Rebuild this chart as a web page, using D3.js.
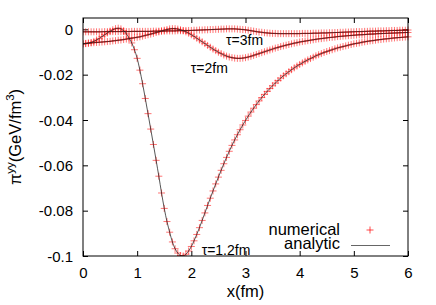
<!DOCTYPE html>
<html>
<head>
<meta charset="utf-8">
<script src="https://cdn.jsdelivr.net/npm/d3@7"></script>
<style>
  html, body { margin: 0; padding: 0; background: #fff; }
  svg { display: block; }
  text { font-family: "Liberation Sans", Arial, Helvetica, sans-serif; fill: #000; }
</style>
</head>
<body>
<svg id="chart" width="436" height="305"></svg>
<script>
// ---------------- data ----------------
const xStep = 0.05;
const xValues = d3.range(0, 121).map(i => +(i * xStep).toFixed(2));

const tau12 = [
 -0.0065,-0.0063,-0.0061,-0.0058,-0.0053,-0.0047,-0.0040,-0.0032,-0.0024,-0.0016,
 -0.0008,-0.0002, 0.0003, 0.0005, 0.0002,-0.0006,-0.0020,-0.0038,-0.0060,-0.0090,
 -0.0128,-0.0180,-0.0240,-0.0305,-0.0372,-0.0440,-0.0508,-0.0578,-0.0648,-0.0722,
 -0.0790,-0.0848,-0.0895,-0.0938,-0.0968,-0.0987,-0.0998,-0.1000,-0.0992,-0.0978,
 -0.0958,-0.0933,-0.0905,-0.0875,-0.0843,-0.0810,-0.0777,-0.0745,-0.0713,-0.0682,
 -0.0652,-0.0622,-0.0593,-0.0565,-0.0538,-0.0512,-0.0488,-0.0465,-0.0443,-0.0422,
 -0.0402,-0.0383,-0.0365,-0.0348,-0.0332,-0.0316,-0.0301,-0.0287,-0.0274,-0.0261,
 -0.0249,-0.0237,-0.0226,-0.0215,-0.0205,-0.0196,-0.0187,-0.0178,-0.0170,-0.0162,
 -0.0155,-0.0148,-0.0141,-0.0135,-0.0129,-0.0123,-0.0117,-0.0112,-0.0107,-0.0102,
 -0.0098,-0.0094,-0.0090,-0.0086,-0.0082,-0.0079,-0.0076,-0.0073,-0.0070,-0.0067,
 -0.0064,-0.0062,-0.0060,-0.0057,-0.0055,-0.0053,-0.0051,-0.0050,-0.0048,-0.0046,
 -0.0045,-0.0043,-0.0042,-0.0041,-0.0039,-0.0038,-0.0037,-0.0036,-0.0035,-0.0034,
 -0.0033
];

const tau2 = [
 -0.0063,-0.0062,-0.0061,-0.0060,-0.0059,-0.0058,-0.0057,-0.0056,-0.0055,-0.0054,
 -0.0053,-0.0051,-0.0050,-0.0048,-0.0047,-0.0045,-0.0043,-0.0041,-0.0039,-0.0037,
 -0.0035,-0.0033,-0.0030,-0.0027,-0.0024,-0.0021,-0.0018,-0.0014,-0.0011,-0.0007,
 -0.0004,-0.0001, 0.0002, 0.0003, 0.0003, 0.0001,-0.0002,-0.0006,-0.0011,-0.0017,
 -0.0024,-0.0031,-0.0039,-0.0047,-0.0055,-0.0063,-0.0071,-0.0079,-0.0087,-0.0094,
 -0.0101,-0.0107,-0.0113,-0.0118,-0.0122,-0.0125,-0.0127,-0.0128,-0.0128,-0.0127,
 -0.0125,-0.0122,-0.0119,-0.0115,-0.0111,-0.0107,-0.0103,-0.0099,-0.0095,-0.0091,
 -0.0087,-0.0083,-0.0080,-0.0076,-0.0073,-0.0070,-0.0067,-0.0064,-0.0061,-0.0059,
 -0.0056,-0.0054,-0.0052,-0.0050,-0.0048,-0.0046,-0.0044,-0.0042,-0.0041,-0.0039,
 -0.0038,-0.0036,-0.0035,-0.0034,-0.0032,-0.0031,-0.0030,-0.0029,-0.0028,-0.0027,
 -0.0026,-0.0025,-0.0024,-0.0024,-0.0023,-0.0022,-0.0021,-0.0021,-0.0020,-0.0019,
 -0.0019,-0.0018,-0.0018,-0.0017,-0.0017,-0.0016,-0.0016,-0.0015,-0.0015,-0.0014,
 -0.0014
];

const tau3 = [
 -0.0011,-0.0011,-0.0011,-0.0011,-0.0011,-0.0011,-0.0011,-0.0011,-0.0010,-0.0010,
 -0.0010,-0.0010,-0.0010,-0.0010,-0.0010,-0.0010,-0.0010,-0.0010,-0.0009,-0.0009,
 -0.0009,-0.0009,-0.0009,-0.0009,-0.0009,-0.0009,-0.0008,-0.0008,-0.0008,-0.0008,
 -0.0008,-0.0007,-0.0007,-0.0007,-0.0007,-0.0006,-0.0006,-0.0006,-0.0005,-0.0005,
 -0.0005,-0.0004,-0.0004,-0.0003,-0.0003,-0.0002,-0.0002,-0.0001,-0.0001, 0.0000,
  0.0000, 0.0001, 0.0001, 0.0002, 0.0002, 0.0002, 0.0002, 0.0001, 0.0000,-0.0001,
 -0.0002,-0.0004,-0.0006,-0.0008,-0.0010,-0.0012,-0.0013,-0.0015,-0.0016,-0.0017,
 -0.0018,-0.0018,-0.0019,-0.0019,-0.0019,-0.0019,-0.0019,-0.0019,-0.0019,-0.0019,
 -0.0019,-0.0018,-0.0018,-0.0018,-0.0018,-0.0017,-0.0017,-0.0017,-0.0016,-0.0016,
 -0.0016,-0.0015,-0.0015,-0.0014,-0.0014,-0.0013,-0.0013,-0.0012,-0.0012,-0.0011,
 -0.0011,-0.0010,-0.0010,-0.0010,-0.0009,-0.0009,-0.0008,-0.0008,-0.0008,-0.0007,
 -0.0007,-0.0007,-0.0006,-0.0006,-0.0005,-0.0005,-0.0005,-0.0004,-0.0004,-0.0004,
 -0.0003
];

const seriesNames = ["τ=1.2fm", "τ=2fm", "τ=3fm"];
const seriesValues = [tau12, tau2, tau3];

const xTicks = [0, 1, 2, 3, 4, 5, 6];
const yTicks = [0, -0.02, -0.04, -0.06, -0.08, -0.1];
const yTickLabels = ["0", "-0.02", "-0.04", "-0.06", "-0.08", "-0.1"];
const legendLabels = ["numerical", "analytic"];

// ---------------- layout ----------------
const margin = { left: 83, right: 28, top: 18, bottom: 49 };
const W = 436, H = 305;
const svg = d3.select("#chart");

const x = d3.scaleLinear().domain([0, 6]).range([margin.left, W - margin.right]);
const y = d3.scaleLinear().domain([-0.1, 0.005]).range([H - margin.bottom, margin.top]);

const x0 = x.range()[0], x1 = x.range()[1];
const y0 = y.range()[0], y1 = y.range()[1];
const tickLen = 5;

// clip
svg.append("defs").append("clipPath").attr("id", "clip")
  .append("rect").attr("x", x0).attr("y", y1 - 4).attr("width", x1 - x0 + 4).attr("height", y0 - y1 + 4);

// ---------------- axes ----------------
const gx = svg.append("g").attr("transform", `translate(0,${y0})`)
  .call(d3.axisBottom(x).tickValues(xTicks).tickSize(-tickLen).tickPadding(11).tickFormat(d3.format("d")));
const gxTop = svg.append("g").attr("transform", `translate(0,${y1})`)
  .call(d3.axisTop(x).tickValues(xTicks).tickSize(-tickLen).tickFormat(""));
const gy = svg.append("g").attr("transform", `translate(${x0},0)`)
  .call(d3.axisLeft(y).tickValues(yTicks).tickSize(-tickLen).tickPadding(10)
    .tickFormat((d, i) => yTickLabels[i]));
const gyR = svg.append("g").attr("transform", `translate(${x1},0)`)
  .call(d3.axisRight(y).tickValues(yTicks).tickSize(-tickLen).tickFormat(""));

[gx, gxTop, gy, gyR].forEach(g => {
  g.select(".domain").remove();
  g.selectAll(".tick line").attr("stroke", "#000").attr("stroke-width", 1);
  g.selectAll(".tick text").attr("font-size", 15).attr("fill", "#000")
    .style("font-family", '"Liberation Sans", Arial, sans-serif');
});
gx.selectAll(".tick text").attr("dy", "0.71em");
gy.selectAll(".tick text").attr("dy", "0.35em");

// ---------------- data marks ----------------
const plot = svg.append("g").attr("clip-path", "url(#clip)");
const armLen = 3.5;

seriesValues.forEach(vals => {
  const pts = xValues.map((xv, i) => [xv, vals[i]]);
  const g = plot.append("g");
  g.selectAll("path.mk").data(pts).enter().append("path")
    .attr("class", "mk")
    .attr("d", d => {
      const cx = x(d[0]), cy = y(d[1]);
      return `M${cx - armLen},${cy}H${cx + armLen}M${cx},${cy - armLen}V${cy + armLen}`;
    })
    .attr("stroke", "#ff0000").attr("stroke-opacity", 0.55).attr("stroke-width", 1).attr("fill", "none");
});

const line = d3.line().x(d => x(d[0])).y(d => y(d[1])).curve(d3.curveMonotoneX);
seriesValues.forEach(vals => {
  const pts = xValues.map((xv, i) => [xv, vals[i]]);
  plot.append("path").datum(pts).attr("d", line)
    .attr("fill", "none").attr("stroke", "#222").attr("stroke-width", 0.9).attr("stroke-opacity", 0.85);
});

// border
svg.append("rect").attr("x", x0).attr("y", y1).attr("width", x1 - x0).attr("height", y0 - y1)
  .attr("fill", "none").attr("stroke", "#000").attr("stroke-width", 1);

// ---------------- annotations ----------------
const labelPos = [
  { xv: 2.19, yv: -0.0995 },   // τ=1.2fm
  { xv: 1.99, yv: -0.0193 },   // τ=2fm
  { xv: 2.64, yv: -0.0069 }    // τ=3fm
];
seriesNames.forEach((name, i) => {
  svg.append("text").attr("x", x(labelPos[i].xv)).attr("y", y(labelPos[i].yv))
    .attr("font-size", 14).text(name);
});

// legend
const legX = 340, legY1 = 235, legY2 = 249;
svg.append("text").attr("x", legX).attr("y", legY1).attr("text-anchor", "end")
  .attr("font-size", 16.5).text(legendLabels[0]);
svg.append("text").attr("x", legX).attr("y", legY2).attr("text-anchor", "end")
  .attr("font-size", 16.5).text(legendLabels[1]);
svg.append("path").attr("d", `M${370 - armLen},230H${370 + armLen}M370,${230 - armLen}V${230 + armLen}`)
  .attr("stroke", "#ff0000").attr("stroke-opacity", 0.7).attr("stroke-width", 1);
svg.append("line").attr("x1", 351).attr("x2", 390).attr("y1", 245.5).attr("y2", 245.5)
  .attr("stroke", "#666").attr("stroke-width", 1);

// axis labels
svg.append("text").attr("x", (x0 + x1) / 2).attr("y", 297).attr("text-anchor", "middle")
  .attr("font-size", 16.5).text("x(fm)");

const yl = svg.append("text").attr("transform", `translate(21,${(y0 + y1) / 2}) rotate(-90)`)
  .attr("text-anchor", "middle").attr("font-size", 16.5);
yl.append("tspan").text("π");
yl.append("tspan").attr("font-size", 11.5).attr("dy", -7).text("yy");
yl.append("tspan").attr("dy", 7).text("(GeV/fm");
yl.append("tspan").attr("font-size", 11.5).attr("dy", -7).text("3");
yl.append("tspan").attr("dy", 7).text(")");
</script>
</body>
</html>
